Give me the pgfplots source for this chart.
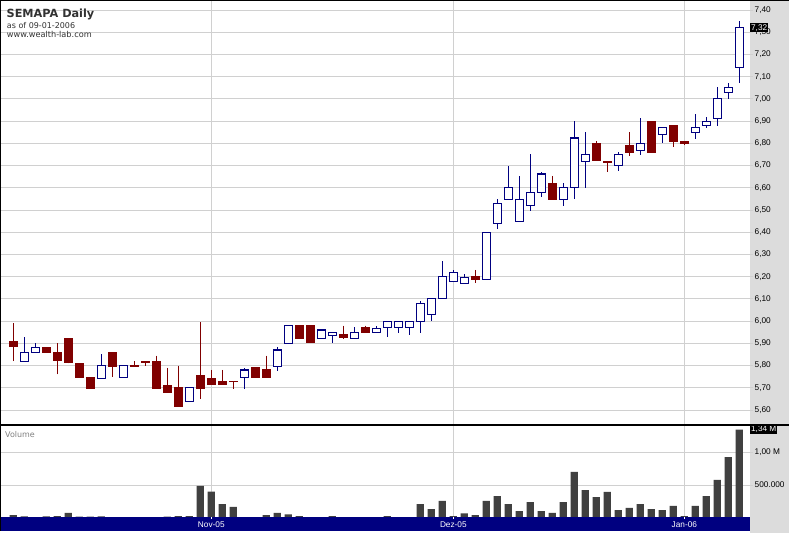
\documentclass[border=0pt]{standalone}
\usepackage{fontspec}
\setmainfont{Liberation Sans}
\newfontfamily\dv{DejaVu Sans}
\usepackage{pgfplots}
\usepgfplotslibrary{statistics}
\pgfplotsset{compat=1.18}
\definecolor{upc}{RGB}{0,0,128}
\definecolor{dnc}{RGB}{128,0,0}
\definecolor{volc}{RGB}{64,64,64}
\definecolor{barblue}{RGB}{0,0,128}
\definecolor{panel}{RGB}{220,220,220}
\definecolor{gridc}{RGB}{208,208,208}
\definecolor{titc}{RGB}{50,50,50}

% \candle{n}{open}{high}{low}{close}
\newcommand\candle[5]{%
  \ifdim #5pt<#2pt
    \addplot[draw=dnc, fill=dnc, line width=1.1bp, boxplot prepared={draw position=#1, lower whisker=#4, lower quartile=#5, median=#5, upper quartile=#2, upper whisker=#3, box extend=0.72, whisker extend=0}] coordinates {};
  \else
    \addplot[draw=upc, fill=white, line width=1.1bp, boxplot prepared={draw position=#1, lower whisker=#4, lower quartile=#2, median=#2, upper quartile=#5, upper whisker=#3, box extend=0.72, whisker extend=0}] coordinates {};
  \fi}

\begin{document}
\begin{tikzpicture}[x=1bp,y=1bp]
\useasboundingbox (0bp,0bp) rectangle (789bp,533bp);
\fill[white] (0bp,0bp) rectangle (789bp,533bp);
\fill[panel] (750bp,0bp) rectangle (789bp,533bp);

\begin{axis}[at={(0bp,108bp)}, anchor=south west, scale only axis,
  width=750bp, height=425bp,
  boxplot/draw direction=y,
  xmin=-1.21, xmax=66.97, ymin=5.5325, ymax=7.445,
  axis line style={draw=none}, clip=false,
  xtick={18,40,61}, xticklabels={}, xmajorgrids, x tick style={draw=none},
  ytick={5.6,5.7,5.8,5.9,6.0,6.1,6.2,6.3,6.4,6.5,6.6,6.7,6.8,6.9,7.0,7.1,7.2,7.3,7.4},
  ymajorgrids, yticklabel pos=right, ytick pos=right,
  tick align=outside, major tick length=3bp, y tick style={gridc, line width=0.8bp},
  grid style={gridc, line width=0.8bp},
  yticklabel style={font=\fontsize{8.3}{9}\selectfont, anchor=west, inner sep=0pt, xshift=1.5bp,
    /pgf/number format/.cd, use comma, fixed, fixed zerofill, precision=2, assume math mode=true},
]
\candle{0}{5.91}{5.99}{5.82}{5.885}
\candle{1}{5.82}{5.93}{5.82}{5.86}
\candle{2}{5.86}{5.90}{5.86}{5.88}
\candle{3}{5.88}{5.88}{5.86}{5.86}
\candle{4}{5.86}{5.90}{5.76}{5.825}
\candle{5}{5.92}{5.92}{5.81}{5.815}
\candle{6}{5.81}{5.81}{5.745}{5.745}
\candle{7}{5.745}{5.745}{5.695}{5.695}
\candle{8}{5.74}{5.85}{5.74}{5.80}
\candle{9}{5.86}{5.86}{5.75}{5.795}
\candle{10}{5.745}{5.80}{5.745}{5.80}
\candle{11}{5.80}{5.82}{5.795}{5.795}
\candle{12}{5.82}{5.82}{5.80}{5.815}
\candle{13}{5.82}{5.845}{5.695}{5.695}
\candle{14}{5.71}{5.79}{5.68}{5.68}
\candle{15}{5.70}{5.80}{5.615}{5.615}
\candle{16}{5.64}{5.70}{5.64}{5.70}
\candle{17}{5.755}{5.995}{5.65}{5.695}
\candle{18}{5.74}{5.78}{5.715}{5.715}
\candle{19}{5.73}{5.78}{5.715}{5.715}
\candle{20}{5.73}{5.73}{5.695}{5.727}
\candle{21}{5.745}{5.79}{5.695}{5.78}
\candle{22}{5.79}{5.79}{5.745}{5.745}
\candle{23}{5.78}{5.845}{5.745}{5.745}
\candle{24}{5.795}{5.885}{5.775}{5.87}
\candle{25}{5.90}{5.98}{5.90}{5.98}
\candle{26}{5.98}{5.98}{5.92}{5.92}
\candle{27}{5.98}{5.98}{5.905}{5.905}
\candle{28}{5.92}{5.96}{5.92}{5.96}
\candle{29}{5.935}{5.95}{5.90}{5.95}
\candle{30}{5.94}{5.98}{5.92}{5.927}
\candle{31}{5.92}{5.975}{5.92}{5.95}
\candle{32}{5.97}{5.98}{5.95}{5.95}
\candle{33}{5.95}{5.98}{5.95}{5.965}
\candle{34}{5.97}{6.00}{5.927}{6.00}
\candle{35}{5.97}{6.00}{5.948}{6.00}
\candle{36}{5.97}{6.00}{5.936}{6.00}
\candle{37}{6.00}{6.09}{5.948}{6.08}
\candle{38}{6.03}{6.10}{6.00}{6.10}
\candle{39}{6.10}{6.27}{6.10}{6.20}
\candle{40}{6.177}{6.23}{6.177}{6.22}
\candle{41}{6.17}{6.21}{6.17}{6.197}
\candle{42}{6.20}{6.23}{6.173}{6.186}
\candle{43}{6.188}{6.40}{6.188}{6.40}
\candle{44}{6.44}{6.55}{6.416}{6.53}
\candle{45}{6.548}{6.70}{6.548}{6.60}
\candle{46}{6.45}{6.653}{6.45}{6.548}
\candle{47}{6.52}{6.75}{6.497}{6.58}
\candle{48}{6.58}{6.672}{6.56}{6.662}
\candle{49}{6.62}{6.653}{6.548}{6.548}
\candle{50}{6.548}{6.62}{6.518}{6.60}
\candle{51}{6.60}{6.90}{6.548}{6.824}
\candle{52}{6.718}{6.85}{6.60}{6.75}
\candle{53}{6.80}{6.81}{6.725}{6.725}
\candle{54}{6.716}{6.72}{6.672}{6.713}
\candle{55}{6.70}{6.76}{6.677}{6.75}
\candle{56}{6.79}{6.85}{6.745}{6.758}
\candle{57}{6.767}{6.912}{6.748}{6.80}
\candle{58}{6.90}{6.90}{6.758}{6.758}
\candle{59}{6.84}{6.872}{6.80}{6.872}
\candle{60}{6.882}{6.882}{6.785}{6.807}
\candle{61}{6.81}{6.81}{6.793}{6.80}
\candle{62}{6.848}{6.93}{6.821}{6.872}
\candle{63}{6.88}{6.92}{6.87}{6.90}
\candle{64}{6.912}{7.052}{6.88}{7.002}
\candle{65}{7.03}{7.07}{7.00}{7.052}
\candle{66}{7.142}{7.352}{7.07}{7.32}
\node[fill=black, text=white, anchor=west, inner sep=0.9bp, font=\fontsize{8.3}{9}\selectfont] at (axis cs:66.97,7.32) {7,32};
\end{axis}

\begin{axis}[at={(0bp,15bp)}, anchor=south west, scale only axis,
  width=750bp, height=93bp,
  xmin=-1.21, xmax=66.97, ymin=0, ymax=1409000,
  axis line style={draw=none}, clip=false,
  xtick={18,40,61}, xticklabels={}, xmajorgrids, x tick style={draw=none},
  ytick={500000,1000000}, yticklabels={500.000,{1,00 M}}, scaled y ticks=false,
  ymajorgrids, yticklabel pos=right, ytick pos=right,
  tick align=outside, major tick length=3bp, y tick style={gridc, line width=0.8bp},
  grid style={gridc, line width=0.8bp},
  yticklabel style={font=\fontsize{8.3}{9}\selectfont, anchor=west, inner sep=0pt, xshift=1.5bp},
  ybar, bar width=7.3bp, bar shift=0pt,
]
\addplot[fill=volc, draw=none] coordinates {
(0,45000) (1,25000) (2,15000) (3,25000) (4,30000) (5,76000) (6,20000) (7,20000) (8,25000) (9,5000)
(10,15000) (11,3000) (12,3000) (13,15000) (14,20000) (15,30000) (16,30000) (17,485000) (18,400000) (19,212000)
(20,167000) (21,15000) (22,15000) (23,45000) (24,76000) (25,55000) (26,30000) (27,3000) (28,3000) (29,30000)
(30,15000) (31,15000) (32,3000) (33,3000) (34,30000) (35,15000) (36,15000) (37,212000) (38,136000) (39,258000)
(40,30000) (41,71000) (42,45000) (43,258000) (44,333000) (45,212000) (46,106000) (47,242000) (48,106000) (49,76000)
(50,242000) (51,697000) (52,424000) (53,318000) (54,394000) (55,121000) (56,152000) (57,212000) (58,136000) (59,121000)
(60,182000) (61,30000) (62,182000) (63,333000) (64,576000) (65,924000) (66,1340000)
};
\fill[barblue] ([yshift=0.8bp]rel axis cs:0,0) rectangle ([yshift=-13bp]rel axis cs:1,0);
\draw[white, line width=0.8bp] ([yshift=0.8bp]axis cs:18,0) -- ([yshift=-1.2bp]axis cs:18,0);
\draw[white, line width=0.8bp] ([yshift=0.8bp]axis cs:40,0) -- ([yshift=-1.2bp]axis cs:40,0);
\draw[white, line width=0.8bp] ([yshift=0.8bp]axis cs:61,0) -- ([yshift=-1.2bp]axis cs:61,0);
\node[text=white, inner sep=0pt, font=\fontsize{8.3}{9}\selectfont] at ([yshift=-6.5bp]axis cs:18,0) {Nov-05};
\node[text=white, inner sep=0pt, font=\fontsize{8.3}{9}\selectfont] at ([yshift=-6.5bp]axis cs:40,0) {Dez-05};
\node[text=white, inner sep=0pt, font=\fontsize{8.3}{9}\selectfont] at ([yshift=-6.5bp]axis cs:61,0) {Jan-06};
\node[fill=black, text=white, anchor=west, inner sep=0.9bp, font=\fontsize{8.3}{9}\selectfont] at (axis cs:66.97,1340000) {1,34 M};
\end{axis}

\draw[black, line width=1.2bp] (0bp,532.4bp) -- (789bp,532.4bp);
\draw[black, line width=1.2bp] (0.6bp,2bp) -- (0.6bp,533bp);
\draw[black, line width=1.2bp] (0bp,108bp) -- (789bp,108bp);

\node[anchor=base west, inner sep=0pt, text=titc, font=\dv\bfseries\fontsize{11.3}{13}\selectfont] at (6.5bp,515.7bp) {SEMAPA Daily};
\node[anchor=base west, inner sep=0pt, text=titc, font=\dv\fontsize{8}{9}\selectfont] at (6.8bp,504.7bp) {as of 09-01-2006};
\node[anchor=base west, inner sep=0pt, text=titc, font=\dv\fontsize{8.2}{9}\selectfont] at (6.8bp,495.7bp) {www.wealth-lab.com};
\node[anchor=base west, inner sep=0pt, text=gray, font=\dv\fontsize{8}{9}\selectfont] at (5bp,95.3bp) {Volume};
\end{tikzpicture}
\end{document}
